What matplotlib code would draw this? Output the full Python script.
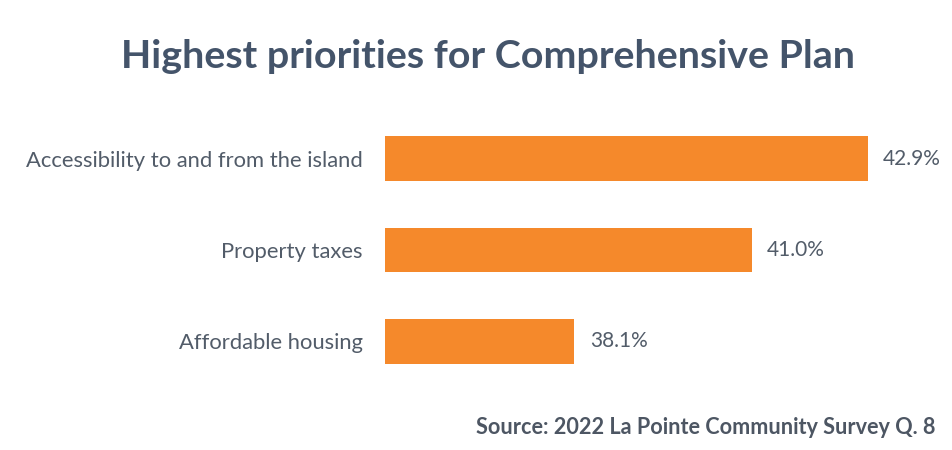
import matplotlib.pyplot as plt

# survey results, top item first
priorities = ['Accessibility to and from the island', 'Property taxes', 'Affordable housing']
shares = [42.9, 41.0, 38.1]
value_labels = ['42.9%', '41.0%', '38.1%']

title = 'Highest priorities for Comprehensive Plan'
source = 'Source: 2022 La Pointe Community Survey Q. 8'

plt.rcParams['font.family'] = ['Lato', 'DejaVu Sans']

fig = plt.figure(figsize=(9.52, 4.5), dpi=100)
fig.patch.set_facecolor('white')
ax = fig.add_axes([385 / 952, 63 / 450, 550 / 952, 274 / 450])

ypos = list(range(len(priorities)))
ax.barh(ypos, [s - 35 for s in shares], left=35, height=0.49, color='#F5892B')

for y, s, lab in zip(ypos, shares, value_labels):
    ax.text(s + 0.25, y, lab, va='center', ha='left', fontsize=15, color='#525C69')

ax.set_xlim(35, 44)
ax.set_ylim(2.5, -0.5)
ax.set_yticks(ypos)
ax.set_yticklabels(priorities, fontsize=15.8, color='#525C69')
ax.tick_params(axis='y', length=0, pad=16)
ax.set_xticks([])
for sp in ax.spines.values():
    sp.set_visible(False)

fig.text(488 / 952, 1 - 56 / 450, title, ha='center', va='center',
         fontsize=28.4, fontweight='bold', color='#44546A')
fig.text(936 / 952, 1 - 428 / 450, source, ha='right', va='center',
         fontsize=15.6, fontweight='bold', color='#4D5663')

fig.savefig('out.png', dpi=100, facecolor='white')
